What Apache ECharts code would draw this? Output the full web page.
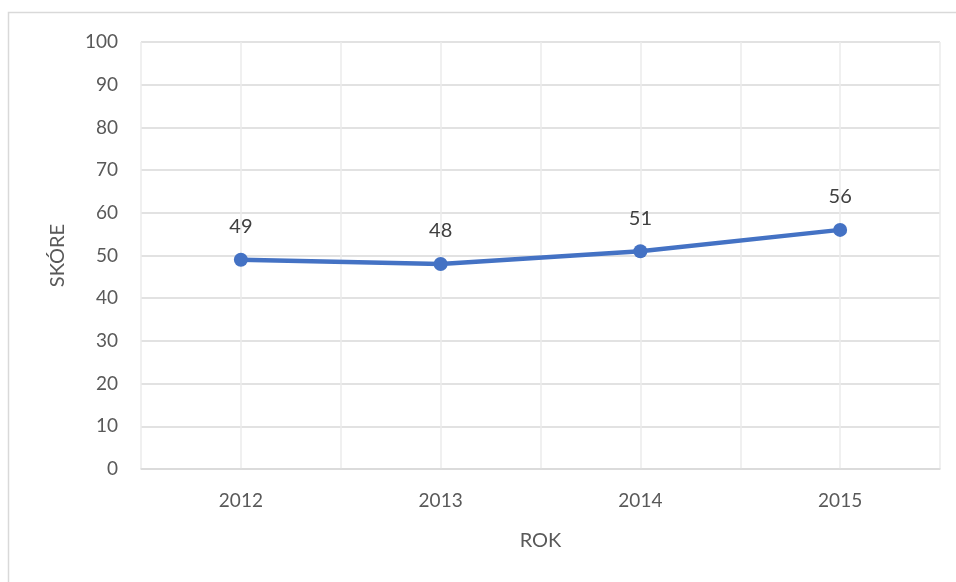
<!DOCTYPE html>
<html><head><meta charset="utf-8">
<script src="https://cdn.jsdelivr.net/npm/echarts@6/dist/echarts.min.js"></script>
<style>html,body{margin:0;padding:0;background:#fff}#c{width:956px;height:582px}</style>
</head><body><div id="c"></div>
<script>
const years = ['2012','2013','2014','2015'];
const scores = [49, 48, 51, 56];
const yTicks = [0,10,20,30,40,50,60,70,80,90,100];
const xName = 'ROK';
const yName = 'SKÓRE';

const chart = echarts.init(document.getElementById('c'));
const font = 'Lato, "Open Sans", sans-serif';
chart.setOption({
  animation: false,
  graphic: [{type:'rect', shape:{x:8.5,y:12.5,width:2000,height:2000}, style:{fill:null, stroke:'#d9d9d9', lineWidth:1.5}, silent:true, z:-10}],
  grid: {left:141, right:16, top:42, bottom:113, containLabel:false},
  xAxis: [{
    type:'category', data: years, boundaryGap:true,
    name: xName, nameLocation:'middle', nameGap:62,
    nameTextStyle:{color:'#595959', fontSize:20, fontFamily:font},
    axisLine:{lineStyle:{color:'#d9d9d9', width:1.5}},
    axisTick:{show:false},
    axisLabel:{color:'#595959', fontSize:19, fontFamily:font, margin:22},
    splitLine:{show:false}
  },{
    type:'value', min:0, max:8, interval:1, position:'bottom',
    axisLine:{show:false}, axisTick:{show:false}, axisLabel:{show:false},
    splitLine:{show:true, lineStyle:{color:'#ebebeb', width:1.5}}
  }],
  yAxis: {
    type:'value', min:0, max:100, interval:10,
    name: yName, nameLocation:'middle', nameGap:73, nameRotate:90,
    nameTextStyle:{color:'#595959', fontSize:20, fontFamily:font},
    axisLine:{show:false}, axisTick:{show:false},
    axisLabel:{color:'#595959', fontSize:19, fontFamily:font, margin:23,
      formatter: v => yTicks.includes(v) ? String(v) : ''},
    splitLine:{lineStyle:{color:'#d9d9d9', width:1.5}}
  },
  series: [{
    type:'line', data: scores, xAxisIndex:0,
    symbol:'circle', symbolSize:14,
    lineStyle:{color:'#4472C4', width:4.5},
    itemStyle:{color:'#4472C4'},
    label:{show:true, position:'top', distance:16, color:'#404040', fontSize:20, fontFamily:font}
  }]
});
</script></body></html>
